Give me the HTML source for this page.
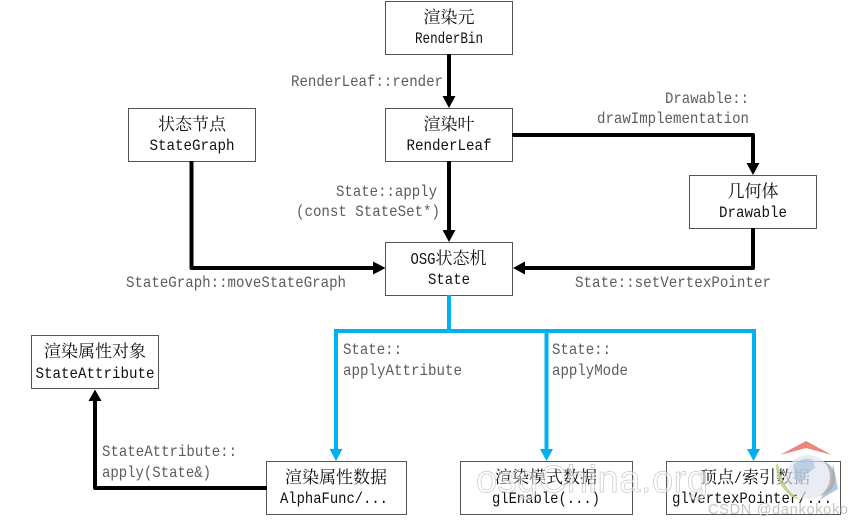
<!DOCTYPE html>
<html><head><meta charset="utf-8">
<style>
html,body{margin:0;padding:0;background:#fff}
svg{display:block}
.m{font-family:"Liberation Mono",monospace;font-size:16px;fill:#5c5c5c}
.b{font-family:"Liberation Mono",monospace;font-size:16px;fill:#111;text-anchor:middle}
.c{font-family:"Liberation Serif","Noto Serif CJK SC",serif;font-size:17px;fill:#111;text-anchor:middle}
.box{fill:#fff;stroke:#555;stroke-width:1}
.k{fill:none;stroke:#000;stroke-width:4;stroke-linejoin:round}
.u{fill:none;stroke:#00b0f0;stroke-width:4;stroke-linejoin:miter}
</style></head><body>
<svg width="856" height="522" viewBox="0 0 856 522" xmlns="http://www.w3.org/2000/svg">
<rect width="856" height="522" fill="#fff"/>
<g>
<rect class="box" x="385.5" y="1.5" width="127" height="53"/>
<rect class="box" x="128.5" y="108.5" width="127" height="53"/>
<rect class="box" x="385.5" y="108.5" width="127" height="53"/>
<rect class="box" x="689.5" y="175.5" width="127" height="53"/>
<rect class="box" x="385.5" y="242.5" width="127" height="53"/>
<rect class="box" x="31.5" y="335.5" width="127" height="53"/>
<rect class="box" x="266.5" y="461.5" width="140" height="53"/>
<rect class="box" x="460.5" y="461.5" width="172" height="53"/>
<rect class="box" x="666.5" y="461.5" width="174" height="53"/>
</g>
<path class="k" d="M449 54V98"/><path d="M442.500 96H455.500L449 108Z"/>
<path class="k" d="M449 161V232"/><path d="M442.500 230H455.500L449 242Z"/>
<path class="k" d="M191.500 161V268H375"/><path d="M373 261.500V274.500L385.500 268Z"/>
<path class="k" d="M512 135H753V164"/><path d="M746.500 163H759.500L753 175Z"/>
<path class="k" d="M753 228V268H524"/><path d="M525 261.500V274.500L513 268Z"/>
<path class="k" d="M267 488H95V400"/><path d="M88.500 401H101.500L95 389.500Z"/>
<path class="u" d="M449 295V331"/>
<path class="u" d="M336 449V331H754V449"/>
<path class="u" d="M546.500 331V449"/>
<g fill="#00b0f0"><path d="M329.500 449H342.500L336 461Z"/><path d="M540 449H553L546.500 461Z"/><path d="M747 449H760L753.500 461Z"/></g>

<g>
<text class="c" x="449" y="23">渲染元</text><text class="b" x="449" y="43" textLength="68" lengthAdjust="spacingAndGlyphs">RenderBin</text>
<text class="c" x="192" y="130">状态节点</text><text class="b" x="192" y="150" textLength="85" lengthAdjust="spacingAndGlyphs">StateGraph</text>
<text class="c" x="449" y="130">渲染叶</text><text class="b" x="449" y="150" textLength="85" lengthAdjust="spacingAndGlyphs">RenderLeaf</text>
<text class="c" x="753" y="197">几何体</text><text class="b" x="753" y="217" textLength="68" lengthAdjust="spacingAndGlyphs">Drawable</text>
<text class="c" x="461" y="264">状态机</text><text class="b" x="423" y="264" textLength="25" lengthAdjust="spacingAndGlyphs" style="font-size:17px">OSG</text><text class="b" x="449" y="284" textLength="42" lengthAdjust="spacingAndGlyphs">State</text>
<text class="c" x="95" y="357">渲染属性对象</text><text class="b" x="95" y="378" textLength="119" lengthAdjust="spacingAndGlyphs">StateAttribute</text>
<text class="c" x="336" y="483">渲染属性数据</text><text class="b" x="334" y="503" textLength="108" lengthAdjust="spacingAndGlyphs">AlphaFunc/...</text>
<text class="c" x="546" y="483">渲染模式数据</text><text class="b" x="546" y="503" textLength="108" lengthAdjust="spacingAndGlyphs">glEnable(...)</text>
<text class="c" x="717" y="483">顶点</text><text class="b" x="738" y="483" textLength="8" lengthAdjust="spacingAndGlyphs">/</text><text class="c" x="776" y="483">索引数据</text><text class="b" x="752" y="503" textLength="160" lengthAdjust="spacingAndGlyphs">glVertexPointer/...</text>
</g>

<g>
<text class="m" x="291" y="86" textLength="152" lengthAdjust="spacingAndGlyphs">RenderLeaf::render</text>
<text class="m" x="665" y="103" textLength="84" lengthAdjust="spacingAndGlyphs">Drawable::</text>
<text class="m" x="597" y="123" textLength="152" lengthAdjust="spacingAndGlyphs">drawImplementation</text>
<text class="m" x="336" y="196" textLength="101" lengthAdjust="spacingAndGlyphs">State::apply</text>
<text class="m" x="296" y="216" textLength="144" lengthAdjust="spacingAndGlyphs">(const StateSet*)</text>
<text class="m" x="126" y="287" textLength="220" lengthAdjust="spacingAndGlyphs">StateGraph::moveStateGraph</text>
<text class="m" x="575" y="287" textLength="196" lengthAdjust="spacingAndGlyphs">State::setVertexPointer</text>
<text class="m" x="343" y="354" textLength="59" lengthAdjust="spacingAndGlyphs">State::</text>
<text class="m" x="343" y="375" textLength="119" lengthAdjust="spacingAndGlyphs">applyAttribute</text>
<text class="m" x="552" y="354" textLength="59" lengthAdjust="spacingAndGlyphs">State::</text>
<text class="m" x="552" y="375" textLength="76" lengthAdjust="spacingAndGlyphs">applyMode</text>
<text class="m" x="102" y="456" textLength="135" lengthAdjust="spacingAndGlyphs">StateAttribute::</text>
<text class="m" x="102" y="477" textLength="109" lengthAdjust="spacingAndGlyphs">apply(State&amp;)</text>
</g>

<!-- watermark -->
<path d="M780 455L806 441L832 455L806 448Z" fill="#e8877a"/>
<path d="M778 463Q781 488 801 500L792 497Q776 485 776 465Z" fill="#b6d08c" opacity=".9"/>
<path d="M833 463L838 489L818 501L831 486Z" fill="#a9c4de" opacity=".9"/>
<circle cx="808" cy="477" r="22" fill="#dfe6ee" opacity=".7"/>
<path d="M793 465q10-9 20-5l2 8-10 7-3 10-7-6z" fill="#a9c2de" opacity=".7"/>
<path d="M823 461a22 22 0 0 1-4 35a18 18 0 0 0 4-35z" fill="#a8a8a8" opacity=".8"/>
<text x="476" y="492" font-family="Liberation Sans,sans-serif" font-size="38" fill="#fff" fill-opacity=".5" stroke="#b4b4b4" stroke-width=".7" textLength="232" stroke-opacity=".75">osgChina.org</text>
<text x="708" y="514" font-family="Liberation Sans,sans-serif" font-size="14.500" fill="#c4c4c4" textLength="140">CSDN @dankokoko</text>
</svg>
</body></html>
